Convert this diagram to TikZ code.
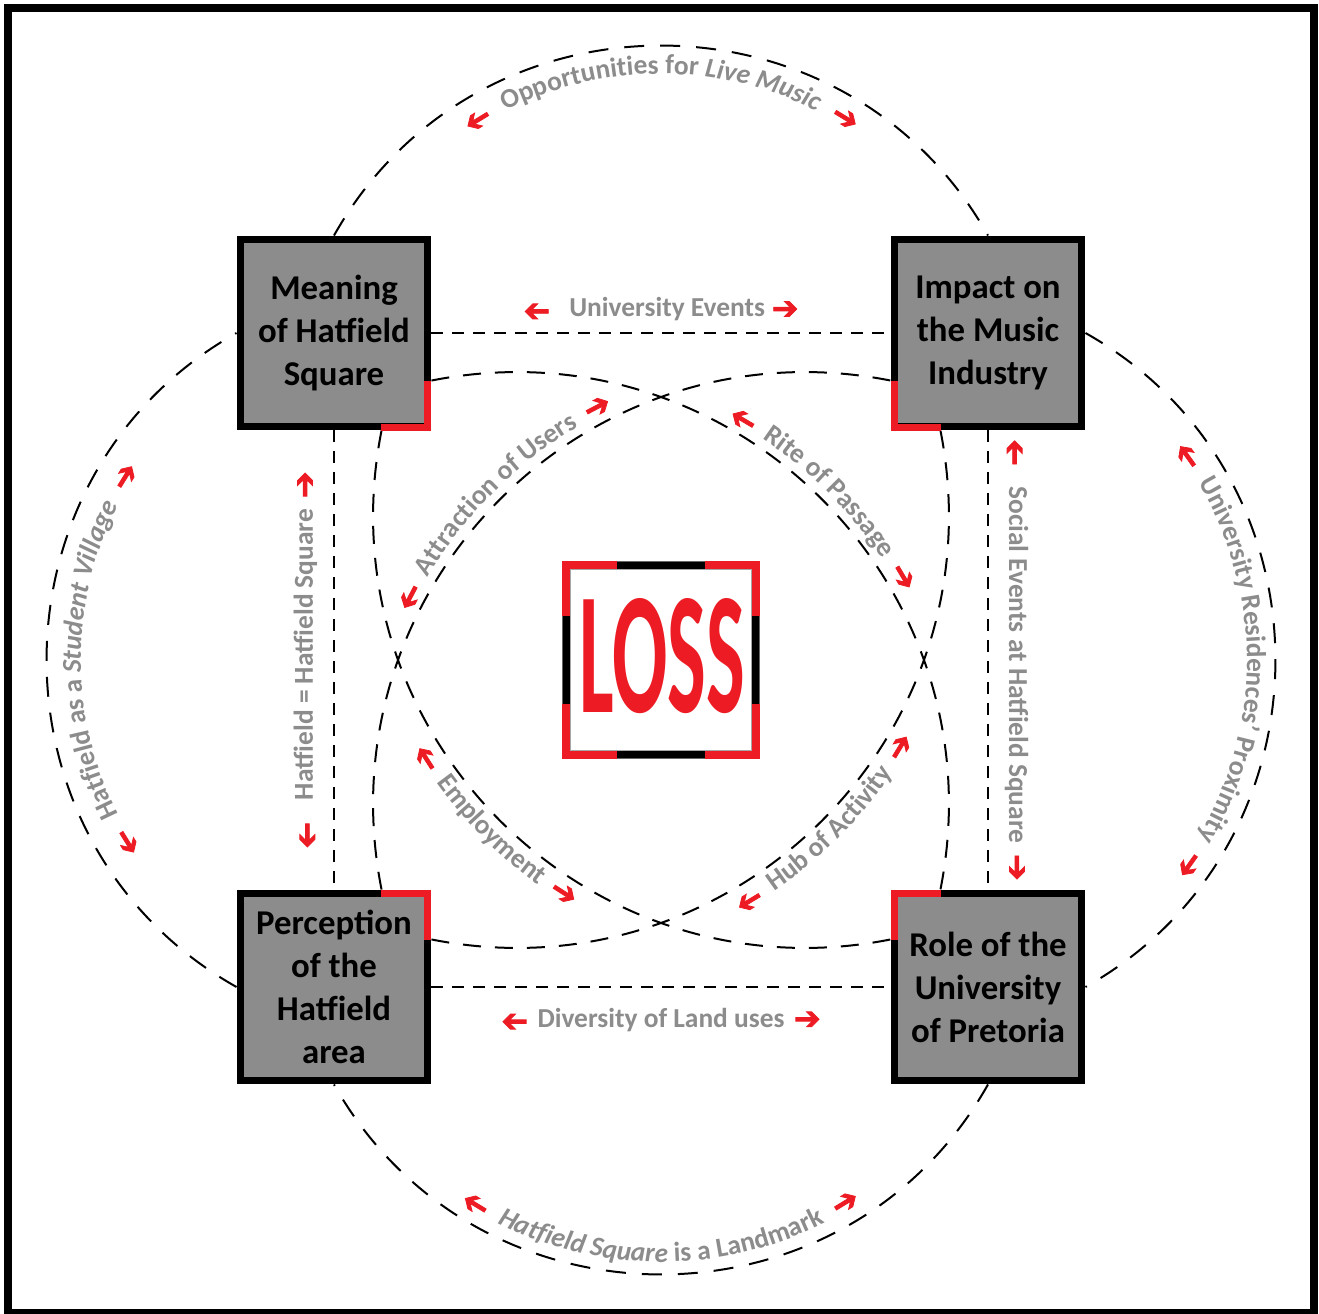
\documentclass[tikz,border=0pt]{standalone}
\usepackage{fontspec}
\setmainfont{Carlito}
\newfontfamily\arwfont{DejaVu Sans}[FakeBold=2.5]
\usetikzlibrary{decorations.text}
\definecolor{lossred}{RGB}{237,28,36}
\definecolor{boxgray}{RGB}{140,140,140}
\definecolor{lblgray}{RGB}{140,140,140}
\newcommand{\arwfmt}{\color{lossred}\arwfont\fontsize{18}{18}\selectfont}
\newcommand{\lblfont}{\rmfamily\bfseries\fontsize{15.6}{18}\selectfont}
\newcommand{\lblfmt}{\color{lblgray}\lblfont}
\newcommand{\rarw}{\raisebox{-1.2pt}{➔}}
\newcommand{\larw}{\raisebox{-1.2pt}{\rotatebox[origin=c]{180}{➔}}}
\newcommand{\redl}{{\arwfmt\larw}}
\newcommand{\redr}{{\arwfmt\rarw}}
\tikzset{
  box/.style={draw, line width=0.14cm, fill=boxgray, minimum size=3.76cm,
    inner sep=0pt, align=center, font=\bfseries\fontsize{19.8}{24.5}\selectfont},
  corner/.style={draw=lossred, line width=0.14cm},
  link/.style={line width=0.04cm, dash pattern=on 0.24cm off 0.18cm},
  ring/.style={line width=0.04cm, dash pattern=on 0.4cm off 0.32cm},
  loop/.style={line width=0.04cm, dash pattern=on 0.36cm off 0.28cm},
  lbl/.style={font=\lblfont, text=lblgray},
  along/.style={decorate, decoration={text along path, text align=center, text={#1}}}
}
\begin{document}
\begin{tikzpicture}[x=0.02cm, y=0.02cm]
  \useasboundingbox (-661,-653) rectangle (658,660);
  \fill[white] (-661,-653) rectangle (658,660);
  \draw[line width=0.16cm] (-653,-653) rectangle (653,652);

  % the four themes
  \node[box] (tl) at (-327,327) {Meaning\\of Hatfield\\Square};
  \node[box] (tr) at (327,327) {Impact on\\the Music\\Industry};
  \node[box] (bl) at (-327,-327) {Perception\\of the\\Hatfield\\area};
  \node[box] (br) at (327,-327) {Role of the\\University\\of Pretoria};

  % outer ring
  \draw[ring] (tl.north) to[bend left=60.6, looseness=1.14] (tr.north);
  \draw[ring] (tr.east) to[bend left=60.6, looseness=1.14] (br.east);
  \draw[ring] (br.south) to[bend left=60.6, looseness=1.14] (bl.south);
  \draw[ring] (bl.west) to[bend left=60.6, looseness=1.14] (tl.west);

  % straight links
  \draw[link] (tl.east) -- node[above=0.1cm, lbl]
    {\redl\hspace{0.7em}University Events\hspace{0.25em}\redr} (tr.west);
  \draw[link] (bl.east) -- node[below=0.28cm, lbl]
    {\redl\hspace{0.35em}Diversity of Land uses\hspace{0.35em}\redr} (br.west);
  \draw[link] (tl.south) -- node[lbl, rotate=90, anchor=south, yshift=0.2cm]
    {\redl\hspace{0.8em}Hatfield = Hatfield Square\hspace{0.4em}\redr} (bl.north);
  \draw[link] (tr.south) -- node[lbl, rotate=-90, anchor=south, yshift=0.2cm]
    {\redl\hspace{0.75em}Social Events at Hatfield Square\hspace{0.4em}\redr} (br.north);

  % inner loops
  \draw[loop] (tl.-26) to[bend left=56.2, looseness=1.094] (br.116);
  \draw[loop] (bl.26) to[bend right=56.2, looseness=1.094] (tr.-116);
  \draw[loop] (tl.-64) to[bend right=56.2, looseness=1.094] (br.154);
  \draw[loop] (bl.64) to[bend left=56.2, looseness=1.094] (tr.-154);

  % red corners
  \foreach \b/\sx/\sy in {tl/1/-1, tr/-1/-1, bl/1/1, br/-1/1}
    \draw[corner, shift={(\b)}] ({94*\sx},{47.5*\sy}) -- ({94*\sx},{94*\sy}) -- ({47.5*\sx},{94*\sy});

  % loss
  \node[draw, line width=0.16cm, fill=white, minimum size=3.8cm, inner sep=0pt] (loss) at (0,0) {};
  \draw[line width=0.02cm, black!60] (loss.south west) rectangle (loss.north east);
  \draw[line width=0.02cm, black!35] ([shift={(8,8)}]loss.south west) rectangle ([shift={(-8,-8)}]loss.north east);
  \foreach \sx/\sy in {1/1, 1/-1, -1/1, -1/-1}
    \draw[corner, line width=0.16cm, shift={(loss)}] ({95*\sx},{44*\sy}) -- ({95*\sx},{95*\sy}) -- ({44*\sx},{95*\sy});
  \node[text=lossred, inner sep=0pt] at ([shift={(1,4)}]loss.center)
    {\bfseries\resizebox{3.32cm}{2.28cm}{LOSS}};

  % labels on the ring
  \path[along={|\arwfmt|{\larw}|\lblfmt|{\hspace{0.3cm}}Opportunities for |\lblfmt\itshape|Live Music{\hspace{0.3cm}}|\arwfmt|{\rarw}}]
    ([shift={(150:346)}]0,240) arc[start angle=150, end angle=30, radius=346];
  \path[along={|\arwfmt|{\larw}|\lblfmt|{\hspace{0.3cm}}University Residences' Proximity{\hspace{0.3cm}}|\arwfmt|{\rarw}}]
    ([shift={(60:346)}]240,0) arc[start angle=60, end angle=-60, radius=346];
  \path[along={|\arwfmt|{\larw}|\lblfmt\itshape|{\hspace{0.3cm}}Hatfield Square |\lblfmt|is a Landmark{\hspace{0.3cm}}|\arwfmt|{\rarw}}]
    ([shift={(210:362)}]0,-240) arc[start angle=210, end angle=330, radius=362];
  \path[along={|\arwfmt|{\larw}|\lblfmt|{\hspace{0.3cm}}Hatfield as a |\lblfmt\itshape|Student Village{\hspace{0.3cm}}|\arwfmt|{\rarw}}]
    ([shift={(240:340)}]-240,0) arc[start angle=240, end angle=120, radius=340];

  % labels on the loops
  \path[along={|\arwfmt|{\larw}|\lblfmt|{\hspace{0.25cm}}Attraction of Users{\hspace{0.25cm}}|\arwfmt|{\rarw}}]
    ([shift={(175:443)}]146,-146) arc[start angle=175, end angle=95, radius=443];
  \path[along={|\arwfmt|{\larw}|\lblfmt|{\hspace{0.25cm}}Rite of Passage{\hspace{0.25cm}}|\arwfmt|{\rarw}}]
    ([shift={(85:443)}]-146,-146) arc[start angle=85, end angle=5, radius=443];
  \path[along={|\arwfmt|{\larw}|\lblfmt|{\hspace{0.25cm}}Employment{\hspace{0.25cm}}|\arwfmt|{\rarw}}]
    ([shift={(185:458)}]146,146) arc[start angle=185, end angle=265, radius=458];
  \path[along={|\arwfmt|{\larw}|\lblfmt|{\hspace{0.25cm}}Hub of Activity{\hspace{0.25cm}}|\arwfmt|{\rarw}}]
    ([shift={(275:458)}]-146,146) arc[start angle=275, end angle=355, radius=458];
\end{tikzpicture}
\end{document}
